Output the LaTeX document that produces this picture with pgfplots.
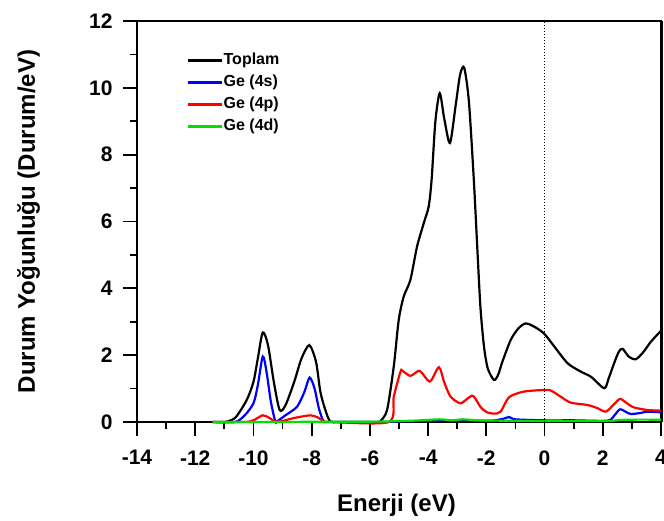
\documentclass[border=0pt]{standalone}
\usepackage{pgfplots}
\pgfplotsset{compat=1.18}
\usepackage{fontspec}
\setmainfont{Liberation Sans}
\definecolor{dgreen}{RGB}{0,225,0}
\definecolor{dblue}{RGB}{0,0,255}
\definecolor{dred}{RGB}{255,0,0}
\begin{document}
\begin{tikzpicture}
\begin{axis}[
  name=ax,
  scale only axis,
  width=524pt, height=401pt,
  xmin=-14, xmax=4, ymin=0, ymax=12,
  clip=false,
  xtick={-14,-12,...,4}, ytick={0,2,...,12},
  minor x tick num=1, minor y tick num=1,
  tick align=outside, xtick pos=bottom, ytick pos=left,
  major tick length=14pt, minor tick length=7pt,
  every tick/.style={line width=1.8pt, black},
  axis line style={line width=2pt, black},
  /pgf/number format/assume math mode=true,
  ticklabel style={font=\bfseries\fontsize{21}{21}\selectfont},
  xticklabel style={yshift=-11pt},
  yticklabel style={xshift=-7pt},
  xlabel={Enerji (eV)},
  ylabel={Durum Yoğunluğu (Durum/eV)},
  label style={font=\bfseries\fontsize{24}{24}\selectfont},
  xlabel style={at={(axis description cs:0.4952,-0.2244)}, anchor=base},
  ylabel style={at={(axis description cs:-0.1947,0.5)}, anchor=base},
  legend cell align=left,
  legend style={at={(rel axis cs:0.094,0.924)}, anchor=north west, draw=none, fill=none,
    inner sep=0pt, row sep=4.5pt, font=\bfseries\fontsize{16}{16}\selectfont,
    nodes={inner sep=1pt, text height=11.5pt, text depth=4pt}},
  legend image code/.code={\draw[#1] (0pt,0pt) -- (34pt,0pt);},
  every axis plot/.append style={line width=2.2pt, smooth, tension=0.45},
]
\draw[line width=2pt, black, line cap=rect] (rel axis cs:0,0) -- (rel axis cs:1,0) -- (rel axis cs:1,1) -- (rel axis cs:0,1) -- cycle;
\draw[line width=3pt, black] (rel axis cs:1,0) -- (rel axis cs:1,1);
\addplot[black] coordinates {
(-11.4,0) (-11.0,0) (-10.87,0.02) (-10.6,0.15) (-10.23,0.66) (-10.0,1.2) (-9.85,1.9) (-9.68,2.68)
(-9.5,2.3) (-9.3,1.2) (-9.1,0.36) (-8.9,0.5) (-8.6,1.2) (-8.35,1.9) (-8.08,2.3) (-7.85,1.8)
(-7.7,0.9) (-7.53,0.36) (-7.36,0.02) (-7.0,0) (-5.8,0) (-5.64,0.03) (-5.41,0.36) (-5.18,1.66)
(-5.01,3.05) (-4.84,3.75) (-4.61,4.25) (-4.38,5.25) (-4.15,5.95) (-3.98,6.45) (-3.88,7.25)
(-3.75,9.0) (-3.6,9.84) (-3.45,9.1) (-3.25,8.35) (-3.05,9.5) (-2.9,10.4) (-2.76,10.6)
(-2.6,9.6) (-2.43,7.25) (-2.29,4.85) (-2.2,3.4) (-2.08,2.25) (-1.95,1.6) (-1.74,1.26)
(-1.6,1.4) (-1.45,1.8) (-1.16,2.46) (-0.9,2.8) (-0.65,2.95) (-0.35,2.85) (-0.02,2.65)
(0.3,2.3) (0.79,1.76) (1.24,1.51) (1.6,1.35) (2.05,1.01) (2.2,1.3) (2.39,1.76) (2.55,2.1)
(2.68,2.19) (2.9,1.95) (3.14,1.88) (3.4,2.1) (3.65,2.4) (4.0,2.73)
};
\addlegendentry{Toplam}
\addplot[dblue] coordinates {
(-11.4,0) (-10.63,0) (-10.3,0.2) (-10.0,0.56) (-9.85,1.1) (-9.68,1.96) (-9.55,1.5) (-9.4,0.6)
(-9.25,0.02) (-9.19,0.02) (-8.9,0.2) (-8.5,0.46) (-8.25,0.9) (-8.07,1.33) (-7.9,1.0) (-7.75,0.4)
(-7.59,0.02) (-7.4,0) (-5.6,0) (-5.0,0.02) (-4.0,0.03) (-3.5,0.05) (-2.5,0.04) (-1.8,0.04)
(-1.4,0.1) (-1.22,0.15) (-1.0,0.08) (0,0.05) (1,0.05) (2.16,0.04) (2.4,0.2) (2.59,0.38)
(2.8,0.3) (2.96,0.24) (3.3,0.27) (3.52,0.31) (4.0,0.29)
};
\addlegendentry{Ge (4s)}
\addplot[dred] coordinates {
(-11.4,0) (-10.3,0) (-10.0,0.05) (-9.68,0.2) (-9.45,0.12) (-9.25,0.01) (-9.0,0.03) (-8.6,0.12)
(-8.05,0.2) (-7.8,0.14) (-7.55,0.01) (-7.3,0) (-5.35,0) (-5.18,0.76) (-4.95,1.5) (-4.89,1.54)
(-4.61,1.38) (-4.29,1.53) (-3.94,1.21) (-3.63,1.64) (-3.45,1.2) (-3.23,0.76) (-2.89,0.56)
(-2.65,0.7) (-2.45,0.78) (-2.2,0.45) (-2.0,0.3) (-1.74,0.25) (-1.51,0.31) (-1.22,0.74)
(-0.71,0.91) (0.09,0.96) (0.3,0.9) (0.55,0.76) (0.9,0.58) (1.47,0.51) (1.8,0.42) (2.1,0.31)
(2.35,0.5) (2.59,0.69) (2.8,0.58) (3.06,0.44) (3.52,0.36) (4.0,0.34)
};
\addlegendentry{Ge (4p)}
\addplot[dgreen] coordinates {
(-11.4,0) (-6,0.01) (-5,0.03) (-4.5,0.04) (-3.6,0.08) (-3.2,0.05) (-2.8,0.08) (-2.3,0.05)
(-1.5,0.04) (0,0.03) (1,0.03) (2.2,0.03) (2.6,0.06) (3.0,0.07) (4.0,0.07)
};
\addlegendentry{Ge (4d)}
\addplot[black, line width=1pt, dotted, forget plot, sharp plot] coordinates {(0,0) (0,12)};
\end{axis}
\pgfresetboundingbox
\path[use as bounding box] (-137pt,-98pt) rectangle (527pt,422pt);
\end{tikzpicture}
\end{document}
